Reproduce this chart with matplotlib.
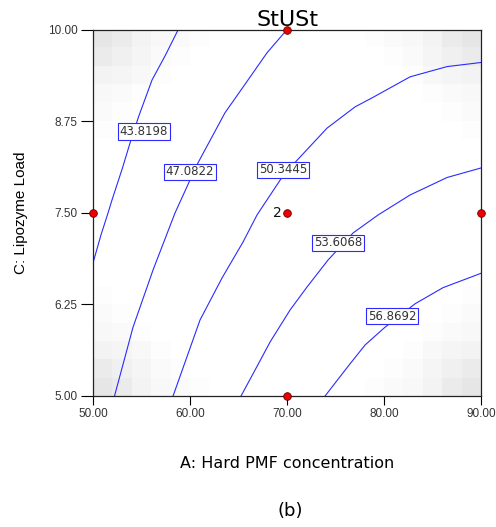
import numpy as np
import matplotlib
matplotlib.use('Agg')
import matplotlib.pyplot as plt

# Contour levels (response: StUSt) and traced iso-lines (A: Hard PMF conc., C: Lipozyme load)
levels = ['43.8198', '47.0822', '50.3445', '53.6068', '56.8692']

line_A = [
    [58.74, 57.45, 56.06, 54.66, 53.79, 53.01, 51.93, 51.52, 50.79, 50.00],
    [69.95, 67.93, 65.45, 63.59, 60.70, 58.43, 56.16, 54.10, 52.19],
    [90.00, 86.50, 82.68, 78.86, 77.01, 74.12, 71.02, 69.58, 66.89, 65.45, 63.28, 61.01, 58.23],
    [90.00, 86.50, 82.68, 79.38, 76.80, 74.22, 72.05, 70.30, 68.24, 66.69, 65.24],
    [90.00, 86.08, 83.20, 80.10, 78.04, 76.39, 73.91],
]
line_C = [
    [10.00, 9.658, 9.317, 8.811, 8.456, 8.115, 7.678, 7.50, 7.199, 6.831],
    [10.00, 9.69, 9.22, 8.87, 8.16, 7.50, 6.72, 5.94, 5.00],
    [9.556, 9.50, 9.36, 9.08, 8.95, 8.66, 8.22, 8.01, 7.473, 7.104, 6.612, 6.038, 5.00],
    [8.115, 7.985, 7.746, 7.473, 7.227, 6.858, 6.489, 6.175, 5.738, 5.355, 5.00],
    [6.676, 6.48, 6.26, 5.94, 5.697, 5.423, 5.00],
]

# label positions on each line
label_A = [55.2, 59.98, 69.61, 75.22, 80.83]
label_C = [8.61, 8.06, 8.09, 7.09, 6.09]

# design points
pts_A = [70, 50, 70, 90, 70]
pts_C = [10, 7.5, 7.5, 7.5, 5]

# std-error shading near the corners (darkness of the 20x20 cell grid, corner patch)
corner_patch = np.array([
    [0.10, 0.08, 0.05, 0.03, 0.02, 0.01],
    [0.08, 0.06, 0.04, 0.02, 0.01, 0.00],
    [0.05, 0.04, 0.03, 0.01, 0.00, 0.00],
    [0.03, 0.02, 0.01, 0.00, 0.00, 0.00],
    [0.02, 0.01, 0.00, 0.00, 0.00, 0.00],
    [0.01, 0.00, 0.00, 0.00, 0.00, 0.00],
])

x_ticks = [50, 60, 70, 80, 90]
y_ticks = [5.00, 6.25, 7.50, 8.75, 10.00]

fig = plt.figure(figsize=(4.96, 5.27), dpi=100)
ax = fig.add_axes([0.1881, 0.2486, 0.7817, 0.6945])

shade = np.zeros((20, 20))
n = corner_patch.shape[0]
shade[:n, :n] = np.maximum(shade[:n, :n], corner_patch)
shade[:n, -n:] = np.maximum(shade[:n, -n:], corner_patch[:, ::-1])
shade[-n:, :n] = np.maximum(shade[-n:, :n], corner_patch[::-1, :])
shade[-n:, -n:] = np.maximum(shade[-n:, -n:], corner_patch[::-1, ::-1])
ax.imshow(1 - shade, cmap='gray', vmin=0, vmax=1, extent=(50, 90, 5, 10),
          origin='upper', aspect='auto', interpolation='nearest', zorder=0)

for a, c in zip(line_A, line_C):
    ax.plot(a, c, color='#2b2bff', lw=0.8, zorder=2)

for lab, a, c in zip(levels, label_A, label_C):
    ax.text(a, c, lab, ha='center', va='center', fontsize=8.5, color='#333333',
            bbox=dict(boxstyle='square,pad=0.15', fc='white', ec='#2b2bff', lw=0.8), zorder=4)

ax.plot(pts_A, pts_C, 'o', color='#ee0000', mec='#660000', mew=0.6, ms=5.5,
        clip_on=False, zorder=6)
ax.text(69.45, 7.5, '2', ha='right', va='center', fontsize=10, color='#111111', zorder=6)

ax.set_xlim(50, 90)
ax.set_ylim(5, 10)
ax.set_xticks(x_ticks)
ax.set_xticklabels(['%.2f' % v for v in x_ticks])
ax.set_yticks(y_ticks)
ax.set_yticklabels(['%.2f' % v for v in y_ticks])
ax.tick_params(axis='x', length=6.5, pad=2, labelsize=8.5, labelcolor='#333333')
ax.tick_params(axis='y', length=8.5, pad=3, labelsize=8.5, labelcolor='#333333')
for lab in ax.get_xticklabels() + ax.get_yticklabels():
    lab.set_fontfamily('Liberation Sans')
for s in ax.spines.values():
    s.set_color('#222222')
    s.set_linewidth(0.9)

ax.set_title('StUSt', fontsize=16, pad=3)
ax.set_xlabel('A: Hard PMF concentration', fontsize=11.5)
ax.xaxis.set_label_coords(0.5, -0.165)
ax.set_ylabel('C: Lipozyme Load', fontsize=11, fontfamily='Liberation Sans')
ax.yaxis.set_label_coords(-0.168, 0.5)

fig.text(290 / 496, 1 - 511 / 527, '(b)', ha='center', va='center', fontsize=13)

fig.savefig('out.png', dpi=100)
